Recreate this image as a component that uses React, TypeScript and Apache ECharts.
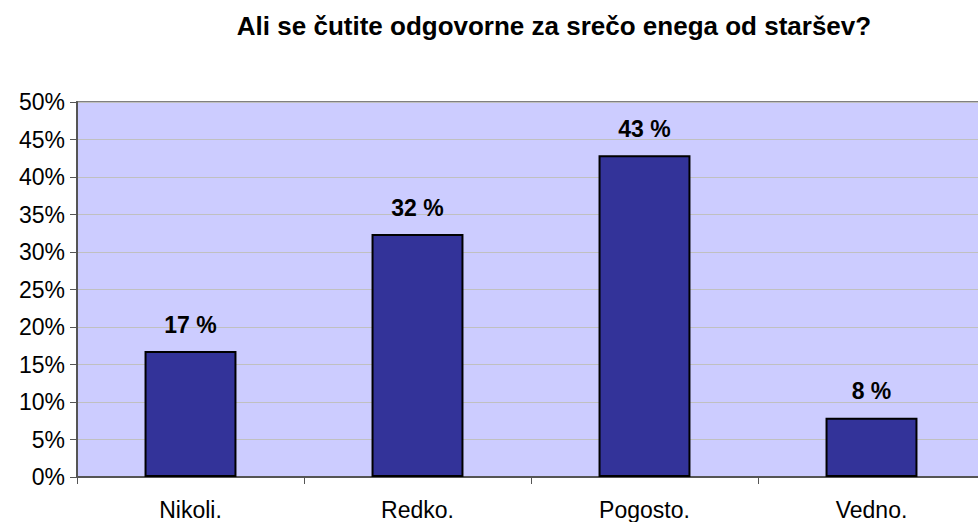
import React, { useEffect, useRef } from "react";
import * as echarts from "echarts";

const titleText = "Ali se čutite odgovorne za srečo enega od staršev?";
const categories = ["Nikoli.", "Redko.", "Pogosto.", "Vedno."];
const values = [16.8, 32.4, 42.9, 7.9];
const labels = ["17 %", "32 %", "43 %", "8 %"];

export default function App() {
  const ref = useRef<HTMLDivElement>(null);
  useEffect(() => {
    if (!ref.current) return;
    const chart = echarts.init(ref.current, undefined, { renderer: "svg" });
    const font = "Liberation Sans, Arial, sans-serif";
    chart.setOption({
      animation: false,
      backgroundColor: "#ffffff",
      title: {
        text: titleText,
        left: 549,
        textAlign: "center",
        top: 8,
        textStyle: { fontFamily: font, fontSize: 26, fontWeight: "bold", color: "#000" },
      },
      grid: {
        left: 77,
        width: 908,
        top: 102,
        bottom: 45,
        outerBoundsMode: "none",
        containLabel: false,
        show: true,
        backgroundColor: "#ccccff",
        borderColor: "#808080",
        borderWidth: 2,
      },
      xAxis: {
        type: "category",
        data: categories,
        axisLine: { lineStyle: { color: "#555555", width: 2 } },
        axisTick: { show: true, length: 7, lineStyle: { color: "#555555" } },
        axisLabel: { fontFamily: font, fontSize: 23, color: "#000", margin: 21 },
      },
      yAxis: {
        type: "value",
        min: 0,
        max: 50,
        interval: 5,
        axisLine: { show: true, lineStyle: { color: "#555555", width: 2 } },
        axisTick: { show: true, length: 7, lineStyle: { color: "#555555" } },
        axisLabel: { fontFamily: font, fontSize: 23, color: "#000", margin: 12, formatter: "{value}%" },
        splitLine: { show: true, lineStyle: { color: "#c0c0c0", width: 1 } },
      },
      series: [
        {
          type: "bar",
          data: values,
          barWidth: "40.5%",
          itemStyle: { color: "#333399", borderColor: "#000000", borderWidth: 2 },
          label: {
            show: true,
            position: "top",
            distance: 15,
            fontFamily: font,
            fontSize: 23,
            fontWeight: "bold",
            color: "#000",
            formatter: (p: any) => labels[p.dataIndex],
          },
        },
      ],
    });
    return () => chart.dispose();
  }, []);
  return <div ref={ref} style={{ width: 978, height: 522, position: "absolute", left: 0, top: 0 }} />;
}
